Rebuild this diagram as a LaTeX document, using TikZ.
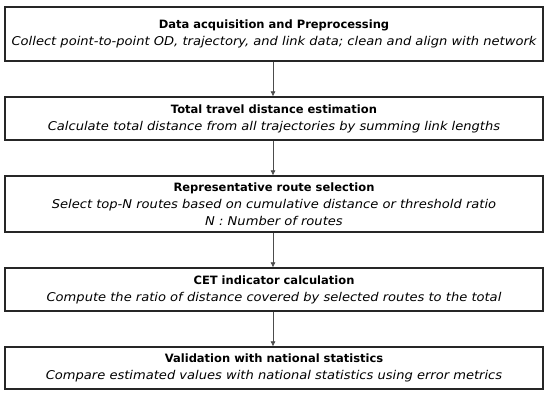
\documentclass[tikz,border=0pt]{standalone}
\usepackage{fontspec}
\setmainfont{DejaVu Sans}
\newfontfamily\descfont{DejaVu Sans}[FakeStretch=1.08]
\newcommand{\desc}[1]{{\descfont\fontsize{12.1}{17}\selectfont\itshape #1}}
\usetikzlibrary{arrows.meta}
\begin{document}
\begin{tikzpicture}[
    x=1pt, y=1pt,
    every node/.style={font=\fontsize{11.5}{17}\selectfont},
    stage/.style={draw, line width=1.2pt, draw=black!85, fill=white, minimum width=538pt, align=center, inner sep=0pt},
    flow/.style={-{Latex[length=5pt,width=5pt]}, line width=0.6pt, black!70},
]
\useasboundingbox (0,0) rectangle (550,-397);
\node[stage, minimum height=54pt] (acq) at (274, -34) {\textbf{Data acquisition and Preprocessing}\\\desc{Collect point-to-point OD, trajectory, and link data; clean and align with network}};
\node[stage, minimum height=43pt] (dist) at (274, -118.5) {\textbf{Total travel distance estimation}\\\desc{Calculate total distance from all trajectories by summing link lengths}};
\node[stage, minimum height=56pt] (route) at (274, -204) {\textbf{Representative route selection}\\\desc{Select top-N routes based on cumulative distance or threshold ratio}\\\desc{N : Number of routes}};
\node[stage, minimum height=43pt] (cet) at (274, -289.5) {\textbf{CET indicator calculation}\\\desc{Compute the ratio of distance covered by selected routes to the total}};
\node[stage, minimum height=42pt] (valid) at (274, -368) {\textbf{Validation with national statistics}\\\desc{Compare estimated values with national statistics using error metrics}};
\draw[flow] (acq.south -| 273,0) -- (dist.north -| 273,0);
\draw[flow] (dist.south -| 273,0) -- (route.north -| 273,0);
\draw[flow] (route.south -| 273,0) -- (cet.north -| 273,0);
\draw[flow] (cet.south -| 273,0) -- (valid.north -| 273,0);
\end{tikzpicture}
\end{document}
